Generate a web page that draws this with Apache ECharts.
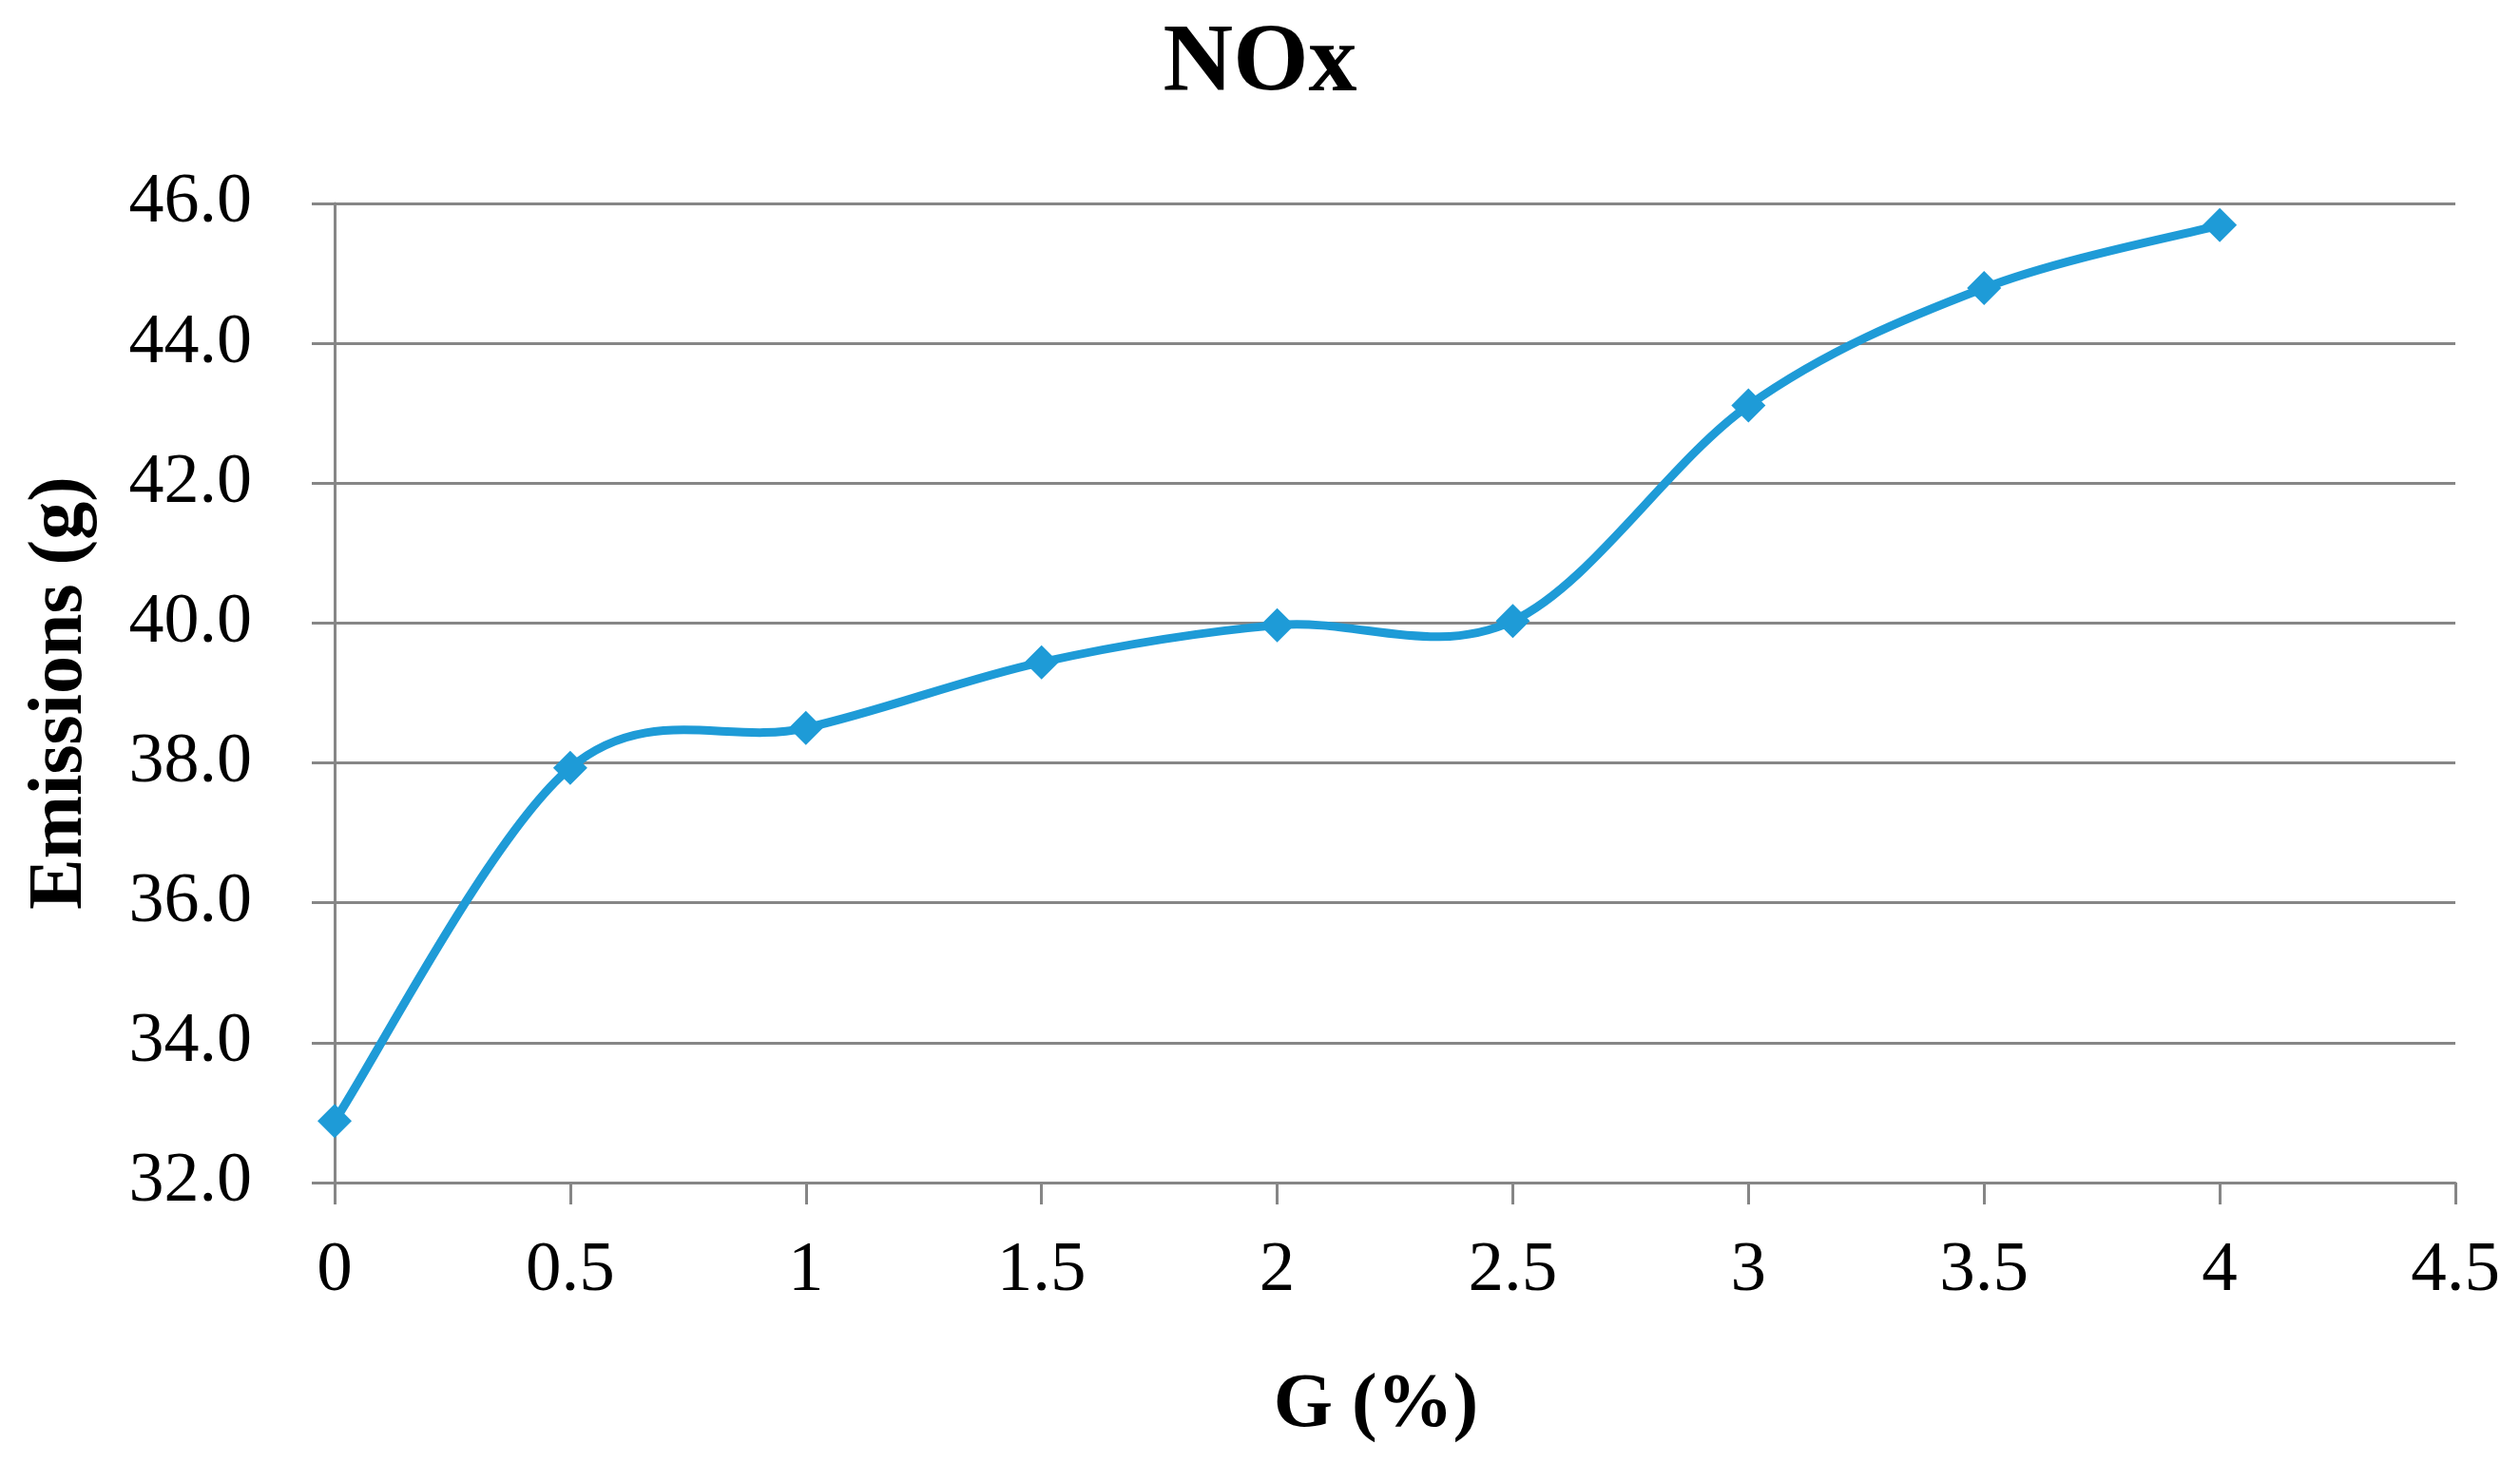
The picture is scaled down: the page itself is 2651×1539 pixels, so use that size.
<!DOCTYPE html>
<html>
<head>
<meta charset="utf-8">
<style>
html,body{margin:0;padding:0;background:#fff;}
#chart{width:2651px;height:1539px;}
</style>
<script src="https://cdn.jsdelivr.net/npm/echarts@6/dist/echarts.min.js"></script>
</head>
<body>
<div id="chart"></div>
<script>
var xValues = [0, 0.5, 1, 1.5, 2, 2.5, 3, 3.5, 4];
var noxValues = [32.88, 37.93, 38.50, 39.44, 39.97, 40.03, 43.11, 44.79, 45.69];
var titleText = 'NOx';
var xName = 'G (%)';
var yName = 'Emissions (g)';

var points = xValues.map(function (x, i) { return [x, noxValues[i]]; });
var serif = '"Liberation Serif", "Times New Roman", serif';
var gridColor = '#868686';
var lineColor = '#1E9BD7';

// Smoothed curve (Excel-like Catmull-Rom Bezier) built from the data points
// mapped through the chart's own axes with api.coord.
function renderCurve(params, api) {
  if (params.dataIndex !== 0) return null;
  var px = points.map(function (p) { return api.coord(p); });
  var n = px.length;
  var d = 'M' + px[0][0] + ' ' + px[0][1];
  for (var i = 0; i < n - 1; i++) {
    var p0 = px[Math.max(i - 1, 0)];
    var p1 = px[i];
    var p2 = px[i + 1];
    var p3 = px[Math.min(i + 2, n - 1)];
    var c1x = p1[0] + (p2[0] - p0[0]) / 6;
    var c1y = p1[1] + (p2[1] - p0[1]) / 6;
    var c2x = p2[0] - (p3[0] - p1[0]) / 6;
    var c2y = p2[1] - (p3[1] - p1[1]) / 6;
    d += ' C' + c1x + ' ' + c1y + ' ' + c2x + ' ' + c2y + ' ' + p2[0] + ' ' + p2[1];
  }
  return {
    type: 'path',
    shape: { pathData: d },
    style: { fill: null, stroke: lineColor, lineWidth: 9, lineJoin: 'round', lineCap: 'round' }
  };
}

var chart = echarts.init(document.getElementById('chart'));
chart.setOption({
  backgroundColor: '#ffffff',
  animation: false,
  title: {
    text: titleText,
    left: 'center',
    top: 13,
    textStyle: { fontFamily: serif, fontWeight: 'bold', fontSize: 102, color: '#000' }
  },
  grid: { left: 352, right: 68, top: 214, bottom: 295, containLabel: false },
  xAxis: {
    type: 'value',
    min: 0, max: 4.5, interval: 0.5,
    name: xName,
    nameLocation: 'middle',
    nameGap: 195,
    nameTextStyle: { fontFamily: serif, fontWeight: 'bold', fontSize: 80, color: '#000', padding: [0, 40, 0, 0] },
    axisLine: { show: true, onZero: false, lineStyle: { color: gridColor, width: 3 } },
    axisTick: { show: true, length: 23, lineStyle: { color: gridColor, width: 3 } },
    axisLabel: { margin: 56, fontFamily: serif, fontSize: 75, color: '#000' },
    splitLine: { show: false }
  },
  yAxis: {
    type: 'value',
    min: 32, max: 46, interval: 2,
    name: yName,
    nameLocation: 'middle',
    nameGap: 248,
    nameRotate: 90,
    nameTextStyle: { fontFamily: serif, fontWeight: 'bold', fontSize: 80, color: '#000' },
    axisLine: { show: true, lineStyle: { color: gridColor, width: 3 } },
    axisTick: { show: true, length: 24, lineStyle: { color: gridColor, width: 3 } },
    axisLabel: {
      margin: 87, fontFamily: serif, fontSize: 74, color: '#000',
      formatter: function (v) { return v.toFixed(1); }
    },
    splitLine: { show: true, lineStyle: { color: gridColor, width: 3 } }
  },
  series: [{
    type: 'custom',
    data: points,
    renderItem: renderCurve,
    z: 2,
    silent: true
  }, {
    type: 'scatter',
    data: points,
    symbol: 'diamond',
    symbolSize: 36,
    itemStyle: { color: lineColor, opacity: 1 },
    z: 3
  }]
});
</script>
</body>
</html>
